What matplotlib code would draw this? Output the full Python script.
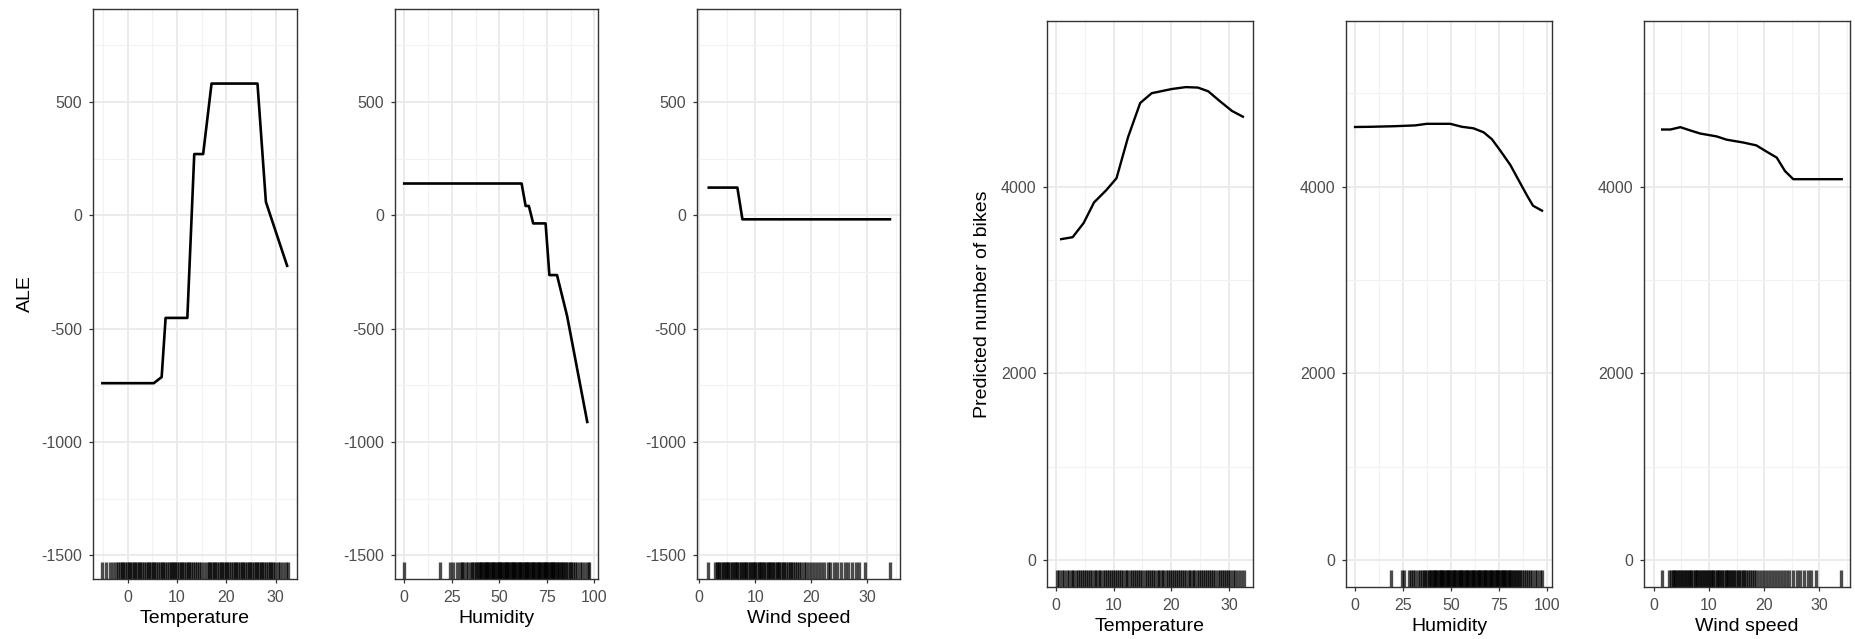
import matplotlib
matplotlib.use("Agg")
import matplotlib.pyplot as plt
from matplotlib.ticker import FixedLocator

plt.rcParams['font.family'] = ['Liberation Sans', 'DejaVu Sans']
plt.rcParams['axes.unicode_minus'] = False

# ---- Accumulated local effects (left block) ----
ale_temp_x = [-5.1, 5.3, 6.9, 7.7, 12.1, 13.5, 15.3, 17.0, 26.3, 28.0, 32.3]
ale_temp_y = [-741, -741, -714, -453, -453, 270, 270, 581, 581, 59, -223]

ale_hum_x = [0, 61.7, 63.8, 65.5, 67.8, 74.3, 76.3, 80.3, 85.6, 96.2]
ale_hum_y = [140, 140, 41, 41, -36, -36, -264, -264, -444, -912]

ale_wind_x = [1.7, 6.8, 7.7, 34.0]
ale_wind_y = [122, 122, -18, -18]

# ---- Partial dependence (right block) ----
pdp_temp_x = [0.9, 2.9, 4.8, 6.6, 8.7, 10.5, 12.5, 14.6, 16.6, 20.1, 22.5, 24.6, 26.4, 28.4, 30.5, 32.4]
pdp_temp_y = [3437, 3458, 3610, 3830, 3960, 4090, 4530, 4895, 5000, 5045, 5065, 5060, 5020, 4915, 4810, 4748]

pdp_hum_x = [0, 7.8, 20, 31.3, 37.4, 49.6, 55.7, 61.7, 67, 71.3, 75.7, 80.9, 86.1, 89.6, 92.7, 97.4]
pdp_hum_y = [4638, 4640, 4646, 4655, 4672, 4672, 4640, 4624, 4581, 4507, 4384, 4231, 4035, 3904, 3795, 3742]

pdp_wind_x = [1.5, 3.0, 4.8, 6.5, 8.4, 11.4, 13.2, 16.2, 18.6, 20.4, 22.3, 23.8, 25.3, 34.1]
pdp_wind_y = [4611, 4611, 4636, 4603, 4568, 4537, 4502, 4472, 4441, 4376, 4310, 4166, 4079, 4079]

# ---- Observed feature values (rug) ----
temp_rug_ale = [-5.2, -4.4, -3.6, -3.0, -2.4, -1.9, -1.5, -1.2, -0.9, -0.5, -0.2, 0.2, 0.5, 0.9, 1.2,
                1.6, 2.0, 2.3, 2.6, 3.0, 3.3, 3.7, 4.1, 4.4, 4.8, 5.1, 5.4, 5.8, 6.2, 6.5, 6.9, 7.2,
                7.6, 7.9, 8.3, 8.7, 9.0, 9.3, 9.7, 10.1, 10.4, 10.8, 11.1, 11.5, 11.9, 12.2, 12.5,
                12.9, 13.3, 13.6, 14.0, 14.4, 14.9, 15.5, 16.0, 16.4, 16.7, 17.1, 17.4, 17.8, 18.1,
                18.5, 18.9, 19.2, 19.5, 19.9, 20.2, 20.6, 21.0, 21.3, 21.7, 22.0, 22.3, 22.7, 23.1,
                23.4, 23.8, 24.1, 24.5, 24.8, 25.2, 25.5, 25.9, 26.2, 26.6, 27.0, 27.3, 27.7, 28.0,
                28.4, 28.8, 29.1, 29.5, 29.9, 30.4, 30.9, 31.5, 32.0, 32.5]

temp_rug_pdp = [0.1, 0.5, 1.0, 1.4, 1.9, 2.3, 2.7, 3.0, 3.4, 3.8, 4.1, 4.5, 4.9, 5.2, 5.6, 5.9, 6.3,
                6.7, 7.0, 7.4, 7.7, 8.1, 8.5, 8.8, 9.2, 9.5, 9.9, 10.3, 10.6, 11.0, 11.3, 11.7, 12.1,
                12.4, 12.8, 13.1, 13.5, 13.9, 14.2, 14.6, 15.0, 15.4, 15.8, 16.1, 16.5, 16.8, 17.2,
                17.6, 17.9, 18.3, 18.6, 19.0, 19.4, 19.7, 20.1, 20.4, 20.8, 21.2, 21.5, 21.9, 22.2,
                22.6, 23.0, 23.3, 23.7, 24.0, 24.4, 24.8, 25.1, 25.5, 25.8, 26.2, 26.6, 26.9, 27.3,
                27.6, 28.0, 28.4, 28.7, 29.1, 29.4, 29.8, 30.2, 30.6, 31.1, 31.6, 32.1, 32.6]

hum_rug = [18.8, 24.3, 25.6, 28.0, 29.1, 30.3, 31.1, 32.6, 33.7, 34.9, 35.8, 36.7, 37.6, 38.4, 39.1,
           39.8, 40.4, 41.0, 41.7, 42.3, 42.9, 43.5, 44.1, 44.8, 45.4, 46.0, 46.6, 47.2, 47.9, 48.5,
           49.1, 49.7, 50.3, 51.0, 51.6, 52.2, 52.8, 53.4, 54.1, 54.7, 55.3, 55.9, 56.5, 57.2, 57.8,
           58.4, 59.0, 59.6, 60.3, 60.9, 61.5, 62.1, 62.7, 63.4, 64.0, 64.6, 65.2, 65.8, 66.5, 67.1,
           67.7, 68.3, 68.9, 69.6, 70.2, 70.8, 71.4, 72.0, 72.7, 73.3, 73.9, 74.5, 75.1, 75.8, 76.4,
           77.0, 77.6, 78.2, 78.9, 79.5, 80.1, 80.8, 81.5, 82.2, 82.9, 83.6, 84.4, 85.2, 86.0, 86.9,
           87.8, 88.8, 89.9, 91.0, 92.3, 93.6, 95.0, 96.4, 97.2]
hum_rug_ale = [0.0] + hum_rug

wind_rug = [1.5, 2.8, 3.1, 3.4, 3.6, 3.9, 4.2, 4.4, 4.7, 5.0, 5.2, 5.5, 5.8, 6.0, 6.3, 6.6, 6.8, 7.1,
            7.4, 7.6, 7.9, 8.2, 8.4, 8.7, 9.0, 9.2, 9.5, 9.8, 10.0, 10.3, 10.6, 10.8, 11.1, 11.4,
            11.6, 11.9, 12.2, 12.4, 12.7, 13.0, 13.2, 13.5, 13.8, 14.0, 14.3, 14.6, 14.9, 15.2,
            15.5, 15.8, 16.1, 16.4, 16.7, 17.0, 17.4, 17.8, 18.2, 18.6, 19.1, 19.6, 20.1, 20.7,
            21.2, 21.8, 22.3, 22.9, 23.4, 24.0, 24.6, 25.3, 26.0, 26.6, 27.3, 28.0, 28.5, 29.5, 34.0]

# ---- Axis settings ----
ale_yticks = [-1500, -1000, -500, 0, 500]
ale_yminor = [-1250, -750, -250, 250, 750]
ale_ylim = (-1605, 910)
pdp_yticks = [0, 2000, 4000]
pdp_yminor = [1000, 3000, 5000]
pdp_ylim = (-288, 5773)

tick10 = [0, 10, 20, 30]
minor10 = [-5, 5, 15, 25, 35]
tick25 = [0, 25, 50, 75, 100]
minor25 = [12.5, 37.5, 62.5, 87.5]

W, H = 1856, 639
fig = plt.figure(figsize=(W / 100, H / 100), dpi=100)
fig.patch.set_facecolor('white')

GRID = '#EBEBEB'
BORDER = '#333333'
TICKTXT = '#4D4D4D'


def panel(left, right, top, bottom, xs, ys, rug, xlim, ylim, xt, xm, yt, ym, xlabel, lw):
    ax = fig.add_axes([left / W, 1 - bottom / H, (right - left) / W, (bottom - top) / H])
    ax.set_axisbelow(True)
    ax.xaxis.set_major_locator(FixedLocator(xt))
    ax.xaxis.set_minor_locator(FixedLocator(xm))
    ax.yaxis.set_major_locator(FixedLocator(yt))
    ax.yaxis.set_minor_locator(FixedLocator(ym))
    ax.grid(which='major', color=GRID, linewidth=1.4)
    ax.grid(which='minor', color='#F2F2F2', linewidth=0.8)
    ax.vlines(rug, 0, 0.03, transform=ax.get_xaxis_transform(), colors='black',
              alpha=0.7, linewidth=2.4, zorder=2)
    ax.plot(xs, ys, color='black', linewidth=lw, zorder=3, solid_joinstyle='round')
    ax.set_xlim(*xlim)
    ax.set_ylim(*ylim)
    for s in ax.spines.values():
        s.set_color(BORDER)
        s.set_linewidth(1.0)
    ax.tick_params(which='major', length=3.2, width=0.9, color=BORDER,
                   labelsize=11.5, labelcolor=TICKTXT, pad=4.5)
    ax.tick_params(which='minor', length=0)
    ax.set_xlabel(xlabel, fontsize=14, labelpad=4, color='black')
    return ax


ale_top, ale_bot = 9, 579
pdp_top, pdp_bot = 21, 587

panel(93, 297, ale_top, ale_bot, ale_temp_x, ale_temp_y, temp_rug_ale, (-7.0, 34.3), ale_ylim,
      tick10, minor10, ale_yticks, ale_yminor, 'Temperature', 1.9)
panel(395, 598, ale_top, ale_bot, ale_hum_x, ale_hum_y, hum_rug_ale, (-4.85, 101.85), ale_ylim,
      tick25, minor25, ale_yticks, ale_yminor, 'Humidity', 1.9)
panel(697, 900, ale_top, ale_bot, ale_wind_x, ale_wind_y, wind_rug, (-0.4, 35.8), ale_ylim,
      tick10, minor10, ale_yticks, ale_yminor, 'Wind speed', 1.9)

panel(1047, 1253, pdp_top, pdp_bot, pdp_temp_x, pdp_temp_y, temp_rug_pdp, (-1.55, 34.15), pdp_ylim,
      tick10, minor10, pdp_yticks, pdp_yminor, 'Temperature', 1.7)
panel(1346, 1552, pdp_top, pdp_bot, pdp_hum_x, pdp_hum_y, hum_rug, (-4.7, 102.6), pdp_ylim,
      tick25, minor25, pdp_yticks, pdp_yminor, 'Humidity', 1.7)
panel(1644, 1850, pdp_top, pdp_bot, pdp_wind_x, pdp_wind_y, wind_rug, (-1.8, 35.6), pdp_ylim,
      tick10, minor10, pdp_yticks, pdp_yminor, 'Wind speed', 1.7)

fig.text(25 / W, 1 - 294 / H, 'ALE', rotation=90, fontsize=14, ha='center', va='center')
fig.text(983 / W, 1 - 304 / H, 'Predicted number of bikes', rotation=90, fontsize=14,
         ha='center', va='center')

fig.savefig('out.png', dpi=100, facecolor='white')
